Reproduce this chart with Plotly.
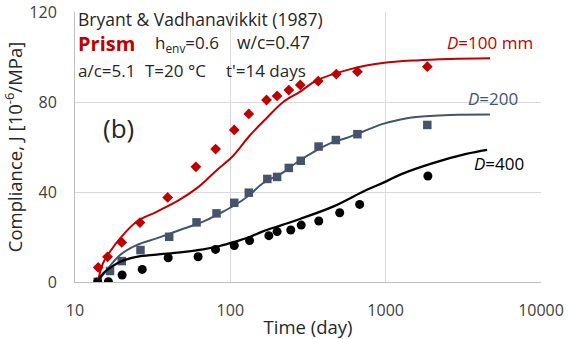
import plotly.graph_objects as go

# Measured data (days, J in 1e-6/MPa)
t_red = [14.1, 16.2, 20.0, 26.2, 39.5, 60.0, 80.4, 106, 131.5, 171, 200, 238, 282, 368, 481, 658, 1854]
j_red = [6.5, 11.2, 17.6, 26.4, 37.6, 51.2, 59.1, 67.6, 74.7, 80.9, 82.7, 85.3, 87.6, 89.3, 92.4, 93.5, 95.7]

t_blue = [14.0, 16.8, 20.0, 26.4, 40.4, 60.6, 81.5, 106, 131.5, 173, 200, 238, 284, 370, 478, 658, 1854]
j_blue = [0.1, 4.9, 9.3, 14.2, 20.1, 26.5, 30.5, 35.2, 39.7, 45.8, 46.7, 50.7, 53.9, 60.2, 63.1, 65.7, 69.8]

t_black = [14.0, 16.4, 20.1, 27.1, 39.8, 62, 80.3, 106, 133, 177, 200, 245, 286, 371, 506, 680, 1870]
j_black = [0.0, 0.1, 3.1, 5.6, 10.8, 11.2, 14.5, 16.2, 18.4, 20.6, 22.4, 23.1, 25.3, 27.1, 30.8, 34.5, 47.1]

# Model curves
tc_red = [14, 15.2, 17, 19.5, 24.9, 33.5, 47, 63, 82, 104, 133, 171, 219, 280, 358, 586, 959, 1570, 2600, 4700]
jc_red = [0, 8.6, 14, 19.4, 26.8, 31.2, 36.5, 42.5, 49.8, 56, 65, 72.8, 80, 84.5, 89.5, 94.5, 97.3, 98.5, 99.1, 99.4]

tc_blue = [14, 16, 19.5, 24.9, 33.5, 47.3, 66.9, 85.6, 106, 133, 162, 219, 266, 358, 436, 586, 712, 959, 1170, 1570, 2600, 4700]
jc_blue = [0, 5.3, 12, 16.4, 19.4, 23.1, 26.8, 30.5, 34, 38.7, 43.9, 48.7, 53, 58.5, 61.5, 64.5, 66.8, 70.3, 71.8, 73.3, 74.2, 74.4]

tc_black = [14, 15.2, 17, 19.5, 24.9, 33.5, 47.3, 66.9, 85.6, 106, 133, 162, 219, 280, 458, 751, 1000, 1230, 2013, 3300, 4500]
jc_black = [0, 3.9, 6.5, 9, 11.2, 12.2, 13.2, 14.5, 16, 17.8, 20, 22.5, 25.5, 28, 33.5, 40.9, 44.6, 47.6, 52.8, 56.9, 58.7]

x_ticks = [10, 100, 1000, 10000]
x_tick_labels = ["10", "100", "1000", "10000"]
y_ticks = [0, 40, 80, 120]

RED = "#C00000"
BLUE = "#44546A"
BLACK = "#000000"
FONT = "Open Sans"
TXT = "#262626"

fig = go.Figure()
fig.add_trace(go.Scatter(x=t_red, y=j_red, mode="markers",
                         marker=dict(symbol="diamond", size=8.3, color=RED), showlegend=False))
fig.add_trace(go.Scatter(x=t_blue, y=j_blue, mode="markers",
                         marker=dict(symbol="square", size=8.5, color=BLUE), showlegend=False))
fig.add_trace(go.Scatter(x=t_black, y=j_black, mode="markers",
                         marker=dict(symbol="circle", size=9, color=BLACK), showlegend=False))
fig.add_trace(go.Scatter(x=tc_red, y=jc_red, mode="lines", line=dict(color=RED, width=2, shape="spline"),
                         showlegend=False))
fig.add_trace(go.Scatter(x=tc_blue, y=jc_blue, mode="lines", line=dict(color=BLUE, width=2, shape="spline"),
                         showlegend=False))
fig.add_trace(go.Scatter(x=tc_black, y=jc_black, mode="lines", line=dict(color=BLACK, width=2.3, shape="spline"),
                         showlegend=False))

L, R, T, B = 75, 541, 12, 282
W, H = 570, 339


def px(x):
    return (x - L) / (R - L)


def py(y):
    return (B - y) / (B - T)


ann = []


def add(text, x, y, size=17, color=TXT, xanchor="left"):
    ann.append(dict(text=text, x=px(x), y=py(y), xref="paper", yref="paper", showarrow=False,
                    xanchor=xanchor, yanchor="middle", font=dict(family=FONT, size=size, color=color)))


add("Bryant &amp; Vadhanavikkit (1987)", 76, 19, 17.5)
add("<b>Prism</b>", 76, 43, 20, RED)
add("h<sub>env</sub>=0.6", 153, 43, 17)
add("w/c=0.47", 235, 42, 17.5)
add("a/c=5.1", 76, 70, 17)
add("T=20&nbsp;°C", 143, 70, 17)
add("t'=14 days", 224, 70, 17)
add("(b)", 101, 128, 26)
add("<i>D</i>=100 mm", 535, 42, 17, RED, "right")
add("<i>D</i>=200", 520, 98, 17, BLUE, "right")
add("<i>D</i>=400", 526, 164, 17, BLACK, "right")

fig.update_layout(
    width=W, height=H,
    margin=dict(l=L, r=W - R, t=T, b=H - B),
    paper_bgcolor="white", plot_bgcolor="white",
    annotations=ann,
    font=dict(family=FONT, color="#404040"),
    xaxis=dict(type="log", range=[1, 4], tickvals=x_ticks, ticktext=x_tick_labels,
               showgrid=True, gridcolor="#D9D9D9", gridwidth=1, automargin=False,
               showline=True, linecolor="#BFBFBF", linewidth=1, zeroline=False,
               ticks="", ticklabelstandoff=14, tickfont=dict(size=16, color="#404040", family=FONT),
               title=dict(text="Time (day)", font=dict(size=18.5, color=TXT, family=FONT), standoff=4)),
    yaxis=dict(range=[0, 120], tickvals=y_ticks, automargin=False,
               showgrid=True, gridcolor="#D9D9D9", gridwidth=1,
               showline=True, linecolor="#BFBFBF", linewidth=1, zeroline=False,
               ticks="", ticklabelstandoff=14, tickfont=dict(size=16, color="#404040", family=FONT),
               title=dict(text="Compliance, J [10<sup>-6</sup>/MPa]",
                          font=dict(size=18.5, color=TXT, family=FONT), standoff=4)),
)

fig.write_html("out.html", config={"displayModeBar": False},
               post_script="document.body.style.margin='0';")
